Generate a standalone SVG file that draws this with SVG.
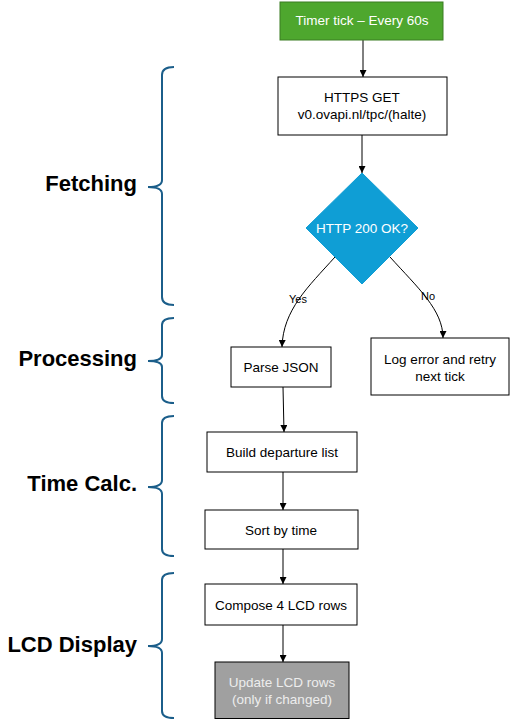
<svg xmlns="http://www.w3.org/2000/svg" width="521" height="720" viewBox="0 0 521 720">
<defs>
<style>
.box{fill:#fff;stroke:#000;stroke-width:1}
.t{font-family:"Liberation Sans",Arial,sans-serif;font-size:13.5px;fill:#000;text-anchor:middle}
.w{fill:#fff}
.lbl{font-family:"Liberation Sans",Arial,sans-serif;font-size:11px;fill:#000;text-anchor:middle}
.sec{font-family:"Liberation Sans",Arial,sans-serif;font-size:22px;font-weight:bold;fill:#000;text-anchor:end}
.brace{fill:none;stroke:#1B5E8A;stroke-width:2}
.c{fill:none;stroke:#000;stroke-width:1;marker-end:url(#ah)}
</style>
<marker id="ah" viewBox="0 0 10 10" refX="10" refY="5" markerWidth="7" markerHeight="7" markerUnits="userSpaceOnUse" orient="auto">
<path d="M0,0 L10,5 L0,10 z" fill="#000"/>
</marker>
</defs>
<rect width="521" height="720" fill="#fff"/>

<g id="sections">
<g id="sec-fetching">
<path class="brace" d="M174,67 Q162,67 162,75 V180 Q162,187 148,187 Q162,187 162,194 V297 Q162,305 174,305"/>
<text class="sec" x="137" y="191">Fetching</text>
</g>
<g id="sec-processing">
<path class="brace" d="M174,318 Q162,318 162,325 V355 Q162,361 148,361 Q162,361 162,367 V396 Q162,403 174,403"/>
<text class="sec" x="137" y="366">Processing</text>
</g>
<g id="sec-timecalc">
<path class="brace" d="M174,416 Q162,416 162,423 V480 Q162,487 148,487 Q162,487 162,494 V549 Q162,556 174,556"/>
<text class="sec" x="137" y="491">Time Calc.</text>
</g>
<g id="sec-lcd">
<path class="brace" d="M174,573 Q162,573 162,580 V639 Q162,646 148,646 Q162,646 162,653 V711 Q162,718 174,718"/>
<text class="sec" x="137" y="652">LCD Display</text>
</g>
</g>

<g id="connectors">
<path class="c" d="M363,40 V77"/>
<path class="c" d="M362,135 V173"/>
<path class="c" d="M335,257 C308,287 283,310 282,347"/>
<path class="c" d="M390,257 C418,288 443,310 443,338"/>
<path class="c" d="M283,387 L284,432"/>
<path class="c" d="M283,472 V510"/>
<path class="c" d="M283,549 V584"/>
<path class="c" d="M283,625 V662"/>
<text class="lbl" x="298" y="303">Yes</text>
<text class="lbl" x="428" y="300">No</text>
</g>

<g id="n-timer">
<rect x="280" y="2" width="163" height="38" fill="#4EA72E" stroke="#3B7D23" stroke-width="1"/>
<text class="t w" x="362" y="25">Timer tick – Every 60s</text>
</g>
<g id="n-get">
<rect class="box" x="278" y="77" width="169" height="58"/>
<text class="t" x="362" y="102">HTTPS GET</text>
<text class="t" x="362" y="119">v0.ovapi.nl/tpc/(halte)</text>
</g>
<g id="n-check">
<polygon points="362,173 418,228 362,284 306,228" fill="#0F9ED5" stroke="#0F9ED5"/>
<text class="t w" x="362" y="233">HTTP 200 OK?</text>
</g>
<g id="n-parse">
<rect class="box" x="231" y="347" width="100" height="40"/>
<text class="t" x="281" y="372">Parse JSON</text>
</g>
<g id="n-error">
<rect class="box" x="371" y="338" width="138" height="57"/>
<text class="t" x="440" y="364">Log error and retry</text>
<text class="t" x="440" y="381">next tick</text>
</g>
<g id="n-build">
<rect class="box" x="207" y="432" width="150" height="40"/>
<text class="t" x="282" y="457">Build departure list</text>
</g>
<g id="n-sort">
<rect class="box" x="205" y="510" width="153" height="39"/>
<text class="t" x="281" y="535">Sort by time</text>
</g>
<g id="n-compose">
<rect class="box" x="205" y="584" width="152" height="41"/>
<text class="t" x="281" y="610">Compose 4 LCD rows</text>
</g>
<g id="n-update">
<rect x="215" y="662" width="134" height="56.5" fill="#A0A0A0" stroke="#000" stroke-width="1"/>
<text class="t" x="282" y="687" style="fill:#EDEDED">Update LCD rows</text>
<text class="t" x="282" y="704" style="fill:#EDEDED">(only if changed)</text>
</g>
</svg>
